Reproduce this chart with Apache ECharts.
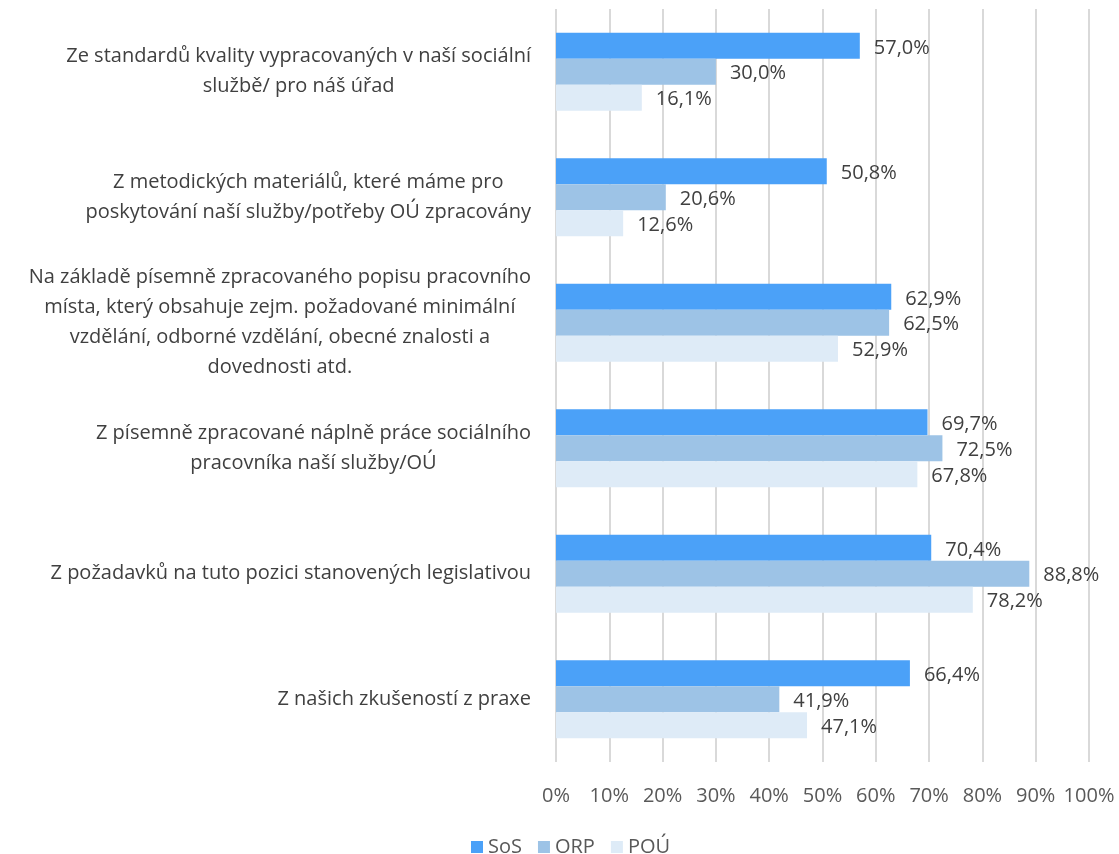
<!DOCTYPE html>
<html>
<head>
<meta charset="utf-8">
<script src="https://cdn.jsdelivr.net/npm/echarts@6/dist/echarts.min.js"></script>
<style>
  html, body { margin: 0; padding: 0; background: #ffffff; }
  #chart { width: 1119px; height: 854px; }
</style>
</head>
<body>
<div id="chart"></div>
<script>
// Categories (each entry holds the lines of a wrapped label)
const categories = [
  ['Ze standardů kvality vypracovaných v naší sociální', 'službě/ pro náš úřad'],
  ['Z metodických materiálů, které máme pro', 'poskytování naší služby/potřeby OÚ zpracovány'],
  ['Na základě písemně zpracovaného popisu pracovního', 'místa, který obsahuje zejm. požadované minimální', 'vzdělání, odborné vzdělání, obecné znalosti a', 'dovednosti atd.'],
  ['Z písemně zpracované náplně práce sociálního', 'pracovníka naší služby/OÚ'],
  ['Z požadavků na tuto pozici stanovených legislativou'],
  ['Z našich zkušeností z praxe']
];

const seriesNames = ['SoS', 'ORP', 'POÚ'];
const sosValues = [57.0, 50.8, 62.9, 69.7, 70.4, 66.4];
const orpValues = [30.0, 20.6, 62.5, 72.5, 88.8, 41.9];
const pouValues = [16.1, 12.6, 52.9, 67.8, 78.2, 47.1];
const xTicks = [0, 10, 20, 30, 40, 50, 60, 70, 80, 90, 100];

const colors = ['#4BA1F8', '#9DC3E6', '#DEEBF7'];
const FONT = '"Open Sans", sans-serif';
const FS = 20;

const fmtPct = v => v.toFixed(1).replace('.', ',') + '%';

const catKeys = categories.map(lines => lines.join('\n'));

function makeSeries(name, values, color) {
  return {
    name: name,
    type: 'bar',
    data: values,
    itemStyle: { color: color },
    barCategoryGap: '38%',
    barGap: '0%',
    label: {
      show: true,
      position: 'right',
      distance: 14,
      offset: [0, 2],
      color: '#404040',
      fontFamily: FONT,
      fontSize: FS,
      formatter: p => fmtPct(p.value)
    }
  };
}

const chart = echarts.init(document.getElementById('chart'), null, { renderer: 'canvas' });
chart.setOption({
  backgroundColor: '#ffffff',
  animation: false,
  grid: { left: 556, right: 30, top: 9, bottom: 92, containLabel: false },
  legend: {
    bottom: -8,
    left: 466,
    itemWidth: 12,
    itemHeight: 12,
    itemGap: 16,
    icon: 'rect',
    textStyle: { color: '#595959', fontFamily: FONT, fontSize: FS },
    data: seriesNames
  },
  xAxis: {
    type: 'value',
    min: 0,
    max: 100,
    interval: 10,
    axisLine: { show: false },
    axisTick: { show: false },
    splitLine: { show: true, lineStyle: { color: '#d9d9d9', width: 2 } },
    axisLabel: {
      margin: 24,
      color: '#595959',
      fontFamily: FONT,
      fontSize: FS,
      formatter: v => xTicks.includes(v) ? v + '%' : ''
    }
  },
  yAxis: {
    type: 'category',
    inverse: true,
    data: catKeys,
    axisLine: { show: false },
    axisTick: { show: false },
    axisLabel: {
      margin: 25,
      align: 'right',
      lineHeight: 30,
      formatter: v => v.split('\n').map(l => '{c|' + l + '}').join('\n'),
      rich: {
        c: {
          align: 'center',
          color: '#404040',
          fontFamily: FONT,
          fontSize: FS,
          lineHeight: 30
        }
      }
    }
  },
  series: [
    makeSeries(seriesNames[0], sosValues, colors[0]),
    makeSeries(seriesNames[1], orpValues, colors[1]),
    makeSeries(seriesNames[2], pouValues, colors[2])
  ]
});
</script>
</body>
</html>
